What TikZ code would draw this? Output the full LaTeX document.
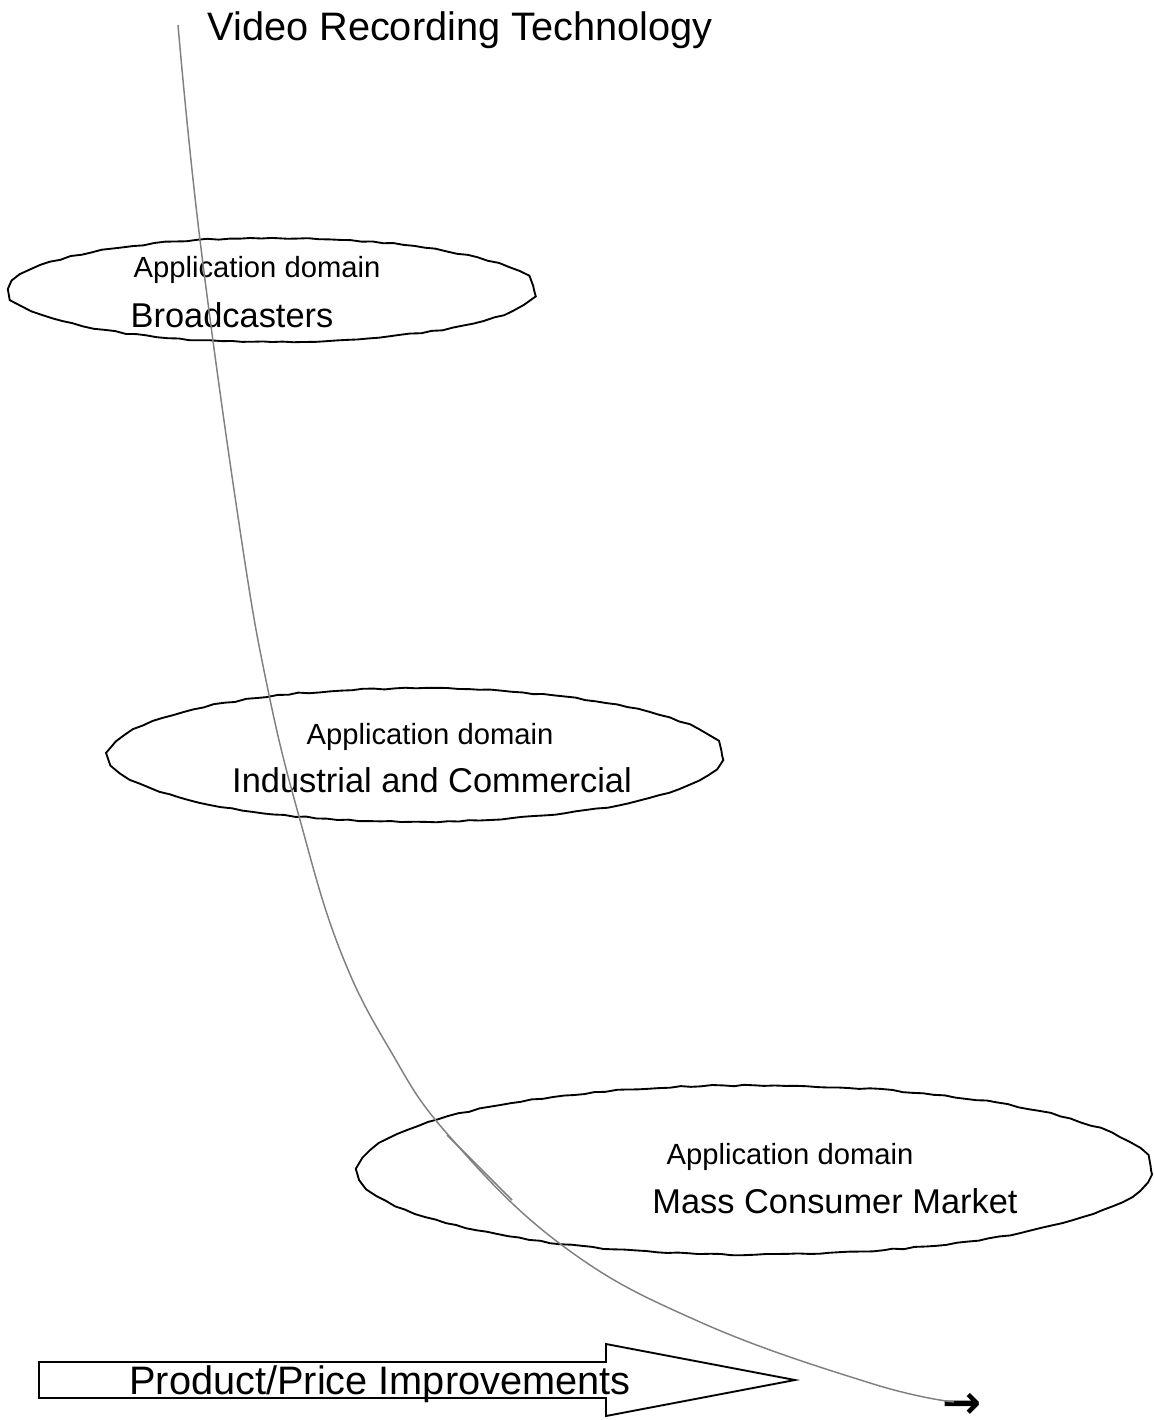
\documentclass[tikz,border=0pt]{standalone}
\usepackage{fontspec}
\setmainfont{Liberation Sans}
\newfontfamily\symfont{DejaVu Sans}
\usetikzlibrary{shapes.geometric,decorations.pathmorphing}

\tikzset{
  appdomain/.style={ellipse, draw, line width=1.4pt, inner sep=0pt,
    decorate, decoration={random steps, segment length=8pt, amplitude=0.6pt,
      pre length=3pt, post length=3pt}},
  title/.style={inner sep=0pt, font=\fontsize{29.8}{34}\selectfont},
  lbl/.style={inner sep=0pt, font=\fontsize{25.8}{30}\selectfont},
  sublbl/.style={inner sep=0pt, font=\fontsize{21.9}{26}\selectfont},
  trend/.style={draw=gray, line width=1.1pt},
  blockarrow/.style={draw, line width=1.4pt},
  tipglyph/.style={inner sep=0pt, font=\symfont\bfseries\fontsize{35}{38}\selectfont}
}

\begin{document}
\begin{tikzpicture}[x=0.75pt,y=-0.75pt]
\useasboundingbox (0,0) rectangle (1153,1420);
\pgfmathsetseed{5}

\node[title] (title) at (460,30) {Video Recording Technology};

% application domains
\node[appdomain, minimum width=393pt, minimum height=78pt] (bcast) at (272,290) {};
\node[sublbl] (bcastsub) at (257,270) {Application domain};
\node[lbl] (bcastname) at (232,315) {Broadcasters};

\node[appdomain, minimum width=459pt, minimum height=100pt] (indus) at (416,755) {};
\node[sublbl] (indussub) at (430,737) {Application domain};
\node[lbl] (indusname) at (432,780) {Industrial and Commercial};

\node[appdomain, minimum width=594pt, minimum height=127pt] (mass) at (755,1170) {};
\node[sublbl] (masssub) at (790,1157) {Application domain};
\node[lbl] (massname) at (835,1201) {Mass Consumer Market};

% technology trend
\coordinate (top) at (178,25);
\coordinate (end) at (954,1402);
\coordinate (dbla) at (447,1135);
\coordinate (dblb) at (512,1200);
\node[tipglyph] (tip) at (962,1406) {→};
\draw[trend] plot[smooth, tension=0.7] coordinates {(top) (200,240)
  (240,530) (268,690) (300,820) (340,950) (390,1050) (450,1137)
  (563,1246) (700,1322) (870,1383) (end)};
\draw[trend] (dbla) -- (dblb);

% product/price arrow
\draw[blockarrow] (39,1362) -- (606,1362) -- (606,1344) -- (795,1380)
  -- (606,1416) -- (606,1398) -- (39,1398) -- cycle;
\node[title] (improve) at (380,1384) {Product/Price Improvements};
\end{tikzpicture}
\end{document}
